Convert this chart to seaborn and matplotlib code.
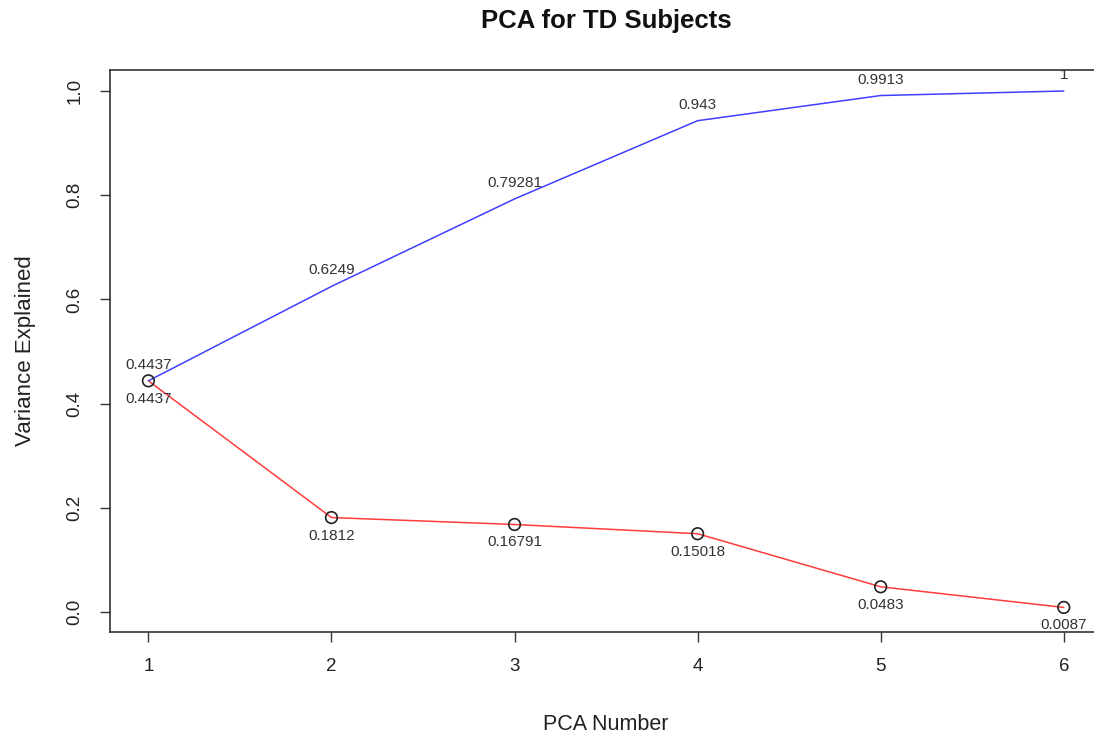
import numpy as np
import pandas as pd
import matplotlib
matplotlib.use("Agg")
import matplotlib.pyplot as plt
import seaborn as sns

# values
pca_number = [1, 2, 3, 4, 5, 6]
individual = [0.4437, 0.1812, 0.16791, 0.15018, 0.0483, 0.0087]
cumulative = [0.4437, 0.6249, 0.79281, 0.943, 0.9913, 1.0]
individual_labels = ["0.4437", "0.1812", "0.16791", "0.15018", "0.0483", "0.0087"]
cumulative_labels = ["0.4437", "0.6249", "0.79281", "0.943", "0.9913", "1"]

sns.set_style("white")
plt.rcParams['font.family'] = ['Liberation Sans', 'DejaVu Sans']

df = pd.DataFrame({"pc": pca_number, "ind": individual, "cum": cumulative})

fig = plt.figure(figsize=(10.94, 7.4), dpi=100)
# plot region runs past the right edge of the image, as in the original
ax = fig.add_axes([0.1005, 0.146, 0.907, 0.7594])

sns.lineplot(data=df, x="pc", y="ind", color="#ff3b3b", linewidth=1.1, ax=ax)
sns.lineplot(data=df, x="pc", y="cum", color="#3f3fff", linewidth=1.1, ax=ax)
sns.scatterplot(data=df, x="pc", y="ind", facecolor="none", edgecolor="#222222",
                linewidth=1.2, s=70, ax=ax, zorder=5)

for x, y, lab in zip(pca_number, individual, individual_labels):
    t = ax.annotate(lab, (x, y), xytext=(0, -18), textcoords="offset pixels",
                    ha="center", va="center", fontsize=11, color="#333333",
                    annotation_clip=False)
    t.set_clip_path(ax.patch)
for x, y, lab in zip(pca_number, cumulative, cumulative_labels):
    t = ax.annotate(lab, (x, y), xytext=(0, 16), textcoords="offset pixels",
                    ha="center", va="center", fontsize=11, color="#333333",
                    annotation_clip=False)
    t.set_clip_path(ax.patch)

ax.set_xlim(0.79, 6.21)
ax.set_ylim(-0.0384, 1.0403)
ax.set_xticks(pca_number)
ax.set_xticklabels([str(p) for p in pca_number])
ax.set_yticks([0.0, 0.2, 0.4, 0.6, 0.8, 1.0])
ax.set_yticklabels(["0.0", "0.2", "0.4", "0.6", "0.8", "1.0"], rotation=90, va="center")
ax.tick_params(axis="both", direction="out", length=7, width=1, color="#333333",
               labelsize=13.5, labelcolor="#222222", pad=12, left=True, bottom=True)

for s in ax.spines.values():
    s.set_color("#333333")
    s.set_linewidth(1.2)

ax.set_xlabel("PCA Number", fontsize=15.5, color="#222222", labelpad=28)
ax.set_ylabel("Variance Explained", fontsize=16, color="#222222", labelpad=22)
fig.text(0.554, 0.972, "PCA for TD Subjects", ha="center", va="center",
         fontsize=18.5, fontweight="bold", color="#111111")

fig.savefig("out.png", dpi=100)
